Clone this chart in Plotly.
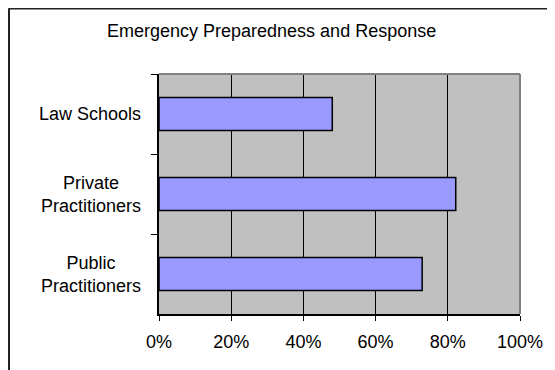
import plotly.graph_objects as go

categories = ["Law Schools", "Private<br>Practitioners", "Public<br>Practitioners"]
values = [0.48, 0.822, 0.729]
x_tickvals = [0, 0.2, 0.4, 0.6, 0.8, 1.0]
x_ticktext = ["0%", "20%", "40%", "60%", "80%", "100%"]
title_text = "Emergency Preparedness and Response"

# page body has an 8px margin, so figure coords = screen coords - 8
OFF = 8
W, H = 555, 370
L, R, T, B = 159 - OFF, 520 - OFF, 74 - OFF, 314 - OFF

def px_x(px):
    return (px - OFF - L) / (R - L)

def px_y(py):
    return (B - (py - OFF)) / (B - T)

FONT = "Liberation Sans, Arial, sans-serif"

fig = go.Figure(go.Bar(
    x=values, y=categories, orientation="h", width=0.41,
    marker=dict(color="#9999FF", line=dict(color="black", width=1.5)),
))

annotations = [
    dict(text=c, x=0, xref="paper", y=c, yref="y", xanchor="right", yanchor="middle",
         xshift=-16, align="center", showarrow=False,
         font=dict(family=FONT, size=18, color="black"))
    for c in categories
]
annotations.append(dict(text=title_text, x=px_x(271), xref="paper", y=px_y(31), yref="paper",
                        xanchor="center", yanchor="middle", showarrow=False,
                        font=dict(family=FONT, size=18, color="black")))

shapes = [
    # outer chart frame (top and left visible)
    dict(type="line", xref="paper", yref="paper", x0=px_x(8.5), x1=px_x(600), y0=px_y(8.5), y1=px_y(8.5),
         line=dict(color="#222222", width=2)),
    dict(type="line", xref="paper", yref="paper", x0=px_x(9), x1=px_x(9), y0=px_y(8.5), y1=px_y(400),
         line=dict(color="#222222", width=2)),
    # plot area border top & right
    dict(type="line", xref="paper", yref="paper", x0=0, x1=1, y0=1, y1=1,
         line=dict(color="#808080", width=2), layer="above"),
    dict(type="line", xref="paper", yref="paper", x0=1, x1=1, y0=0, y1=1,
         line=dict(color="#808080", width=2), layer="above"),
]

fig.update_layout(
    width=W, height=H,
    margin=dict(l=L, r=W - R, t=T, b=H - B, pad=0),
    paper_bgcolor="white", plot_bgcolor="#C0C0C0",
    showlegend=False,
    annotations=annotations,
    shapes=shapes,
    xaxis=dict(range=[0, 1], tickvals=x_tickvals, ticktext=x_ticktext,
               showgrid=True, gridcolor="black", gridwidth=1, zeroline=False,
               showline=True, linecolor="black", linewidth=1.5,
               ticks="outside", ticklen=5, tickcolor="black", tickwidth=1,
               ticklabelstandoff=6,
               tickfont=dict(family=FONT, size=18, color="black"), fixedrange=True),
    yaxis=dict(categoryorder="array", categoryarray=categories, autorange="reversed",
               showticklabels=False, tickson="boundaries", ticks="outside", ticklen=6,
               tickcolor="black", showgrid=False, zeroline=False,
               showline=True, linecolor="black", linewidth=1.5, fixedrange=True),
)

fig.write_html("out.html")
